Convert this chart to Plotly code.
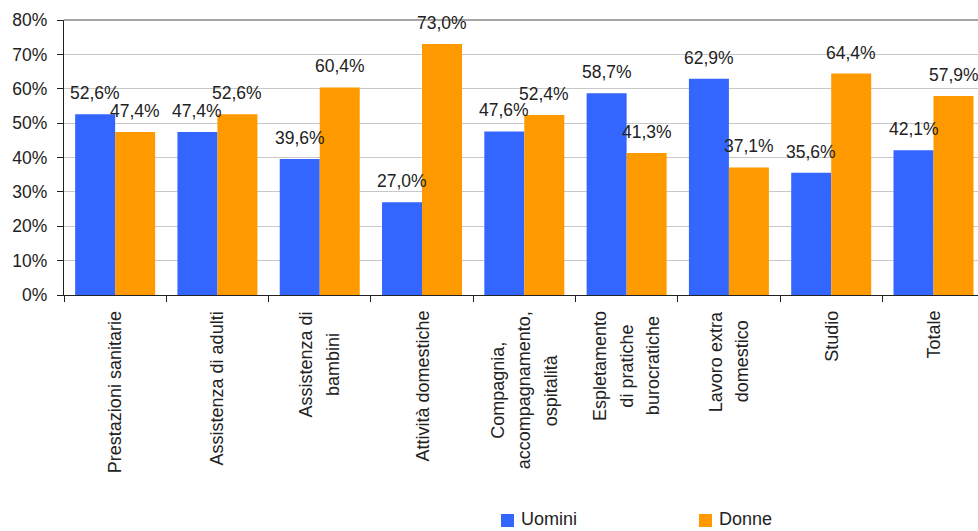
import plotly.graph_objects as go

categories = [
    "Prestazioni sanitarie",
    "Assistenza di adulti",
    "Assistenza di<br>bambini",
    "Attività domestiche",
    "Compagnia,<br>accompagnamento,<br>ospitalità",
    "Espletamento<br>di pratiche<br>burocratiche",
    "Lavoro extra<br>domestico",
    "Studio",
    "Totale",
]
uomini = [52.6, 47.4, 39.6, 27.0, 47.6, 58.7, 62.9, 35.6, 42.1]
donne = [47.4, 52.6, 60.4, 73.0, 52.4, 41.3, 37.1, 64.4, 57.9]
series_names = ["Uomini", "Donne"]
y_ticks = [0, 10, 20, 30, 40, 50, 60, 70, 80]
y_tick_labels = [f"{v}%" for v in y_ticks]

BLUE = "#3366ff"
ORANGE = "#ff9900"
TXT = "#222222"
FONT = "Liberation Sans, Arial, sans-serif"

# layout geometry (pixels)
W, H = 978, 531
L, T, B = 64, 20, 236
PW, PH = W - L, H - T - B

# Arial/Liberation Sans advance widths (per 1000 em) for label centering
_AW = {" ": 278, ",": 278, "A": 667, "C": 722, "E": 667, "L": 556, "P": 667, "S": 667, "T": 611,
       "a": 556, "b": 556, "c": 500, "d": 556, "e": 556, "g": 556, "h": 556, "i": 222, "l": 222,
       "m": 833, "n": 556, "o": 556, "p": 556, "r": 333, "s": 500, "t": 278, "u": 556, "v": 500,
       "x": 500, "z": 500, "à": 556}

def text_w(s, size):
    return sum(_AW.get(c, 556) for c in s) * size / 1000.0

fig = go.Figure()
fig.add_trace(go.Bar(name=series_names[0], x=categories, y=uomini, marker_color=BLUE,
                     marker_line_width=0, showlegend=False))
fig.add_trace(go.Bar(name=series_names[1], x=categories, y=donne, marker_color=ORANGE,
                     marker_line_width=0, showlegend=False))

def fmt(v):
    return f"{v:.1f}%".replace(".", ",")

LBL = 18
LINE_GAP = 26.5
annotations = []
for cat, u, d in zip(categories, uomini, donne):
    annotations.append(dict(x=cat, y=u, xref="x", yref="y", text=fmt(u), showarrow=False,
                            xshift=-20, yshift=9, yanchor="bottom", xanchor="center",
                            font=dict(family=FONT, size=17.5, color=TXT)))
    annotations.append(dict(x=cat, y=d, xref="x", yref="y", text=fmt(d), showarrow=False,
                            xshift=20, yshift=9, yanchor="bottom", xanchor="center",
                            font=dict(family=FONT, size=17.5, color=TXT)))
    lines = cat.split("<br>")
    widths = [text_w(s, LBL) for s in lines]
    maxw = max(widths)
    n = len(lines)
    for i, (s, w) in enumerate(zip(lines, widths)):
        annotations.append(dict(x=cat, y=0, xref="x", yref="y", text=s, showarrow=False,
                                textangle=-90, yanchor="top", xanchor="center",
                                xshift=(i - (n - 1) / 2) * LINE_GAP,
                                yshift=-14 - (maxw - w) / 2,
                                font=dict(family=FONT, size=LBL, color=TXT)))

# legend (drawn in paper coordinates at the bottom)
def px_x(p):
    return (p - L) / PW

def px_y(p):
    return (H - B - p) / PH

shapes = [dict(type="line", xref="paper", yref="paper", x0=0, x1=1, y0=1, y1=1,
               line=dict(color="#888888", width=1.5))]
legend_items = [(series_names[0], BLUE, 501), (series_name := series_names[1], ORANGE, 699)]
for name, col, x0 in legend_items:
    shapes.append(dict(type="rect", xref="paper", yref="paper",
                       x0=px_x(x0), x1=px_x(x0 + 13), y0=px_y(527), y1=px_y(514),
                       fillcolor=col, line=dict(width=0)))
    annotations.append(dict(x=px_x(x0 + 18), y=px_y(530.5), xref="paper", yref="paper",
                            text=name, showarrow=False, xanchor="left", yanchor="bottom",
                            font=dict(family=FONT, size=18, color=TXT)))

fig.update_layout(
    width=W, height=H,
    margin=dict(l=L, r=0, t=T, b=B),
    paper_bgcolor="white", plot_bgcolor="white",
    barmode="group", bargap=0.218, bargroupgap=0,
    font=dict(family=FONT, size=17.5, color=TXT),
    showlegend=False,
    annotations=annotations,
    shapes=shapes,
)
fig.update_xaxes(
    type="category", range=[-0.5, 8.435],
    tickson="boundaries", ticks="outside", ticklen=6, tickcolor="#222",
    showline=True, linecolor="#222", linewidth=1.2,
    showticklabels=False, showgrid=False,
)
fig.update_yaxes(
    range=[0, 80], tickvals=y_ticks, ticktext=y_tick_labels,
    ticks="outside", ticklen=6, tickcolor="#222",
    showline=True, linecolor="#222", linewidth=1.2,
    showgrid=True, gridcolor="#c8c8c8", gridwidth=1,
    zeroline=False, tickfont=dict(family=FONT, size=17.5, color=TXT),
    ticklabelstandoff=6,
)
fig.write_html(
    "out.html",
    config={"displayModeBar": False},
    post_script="document.body.style.margin='0';document.body.style.overflow='hidden';",
)
